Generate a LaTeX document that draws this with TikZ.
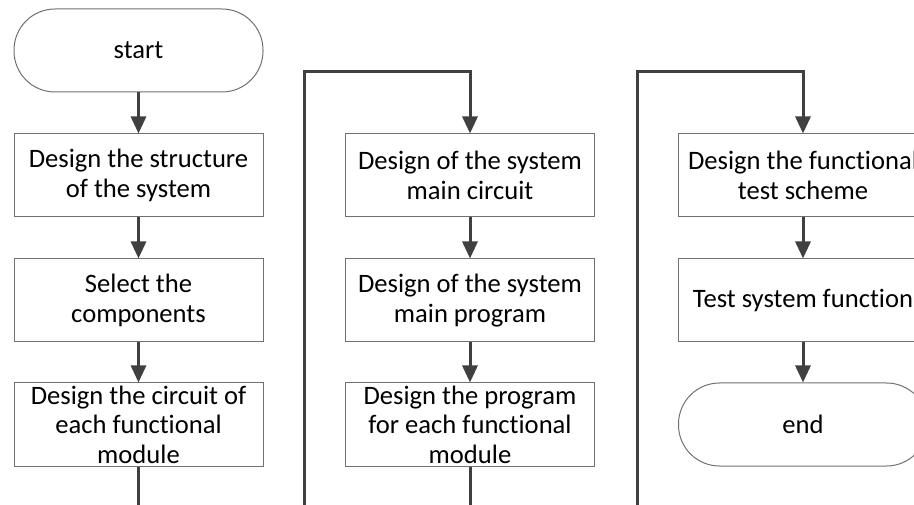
\documentclass[tikz,border=0pt]{standalone}
\usepackage{fontspec}
\setmainfont{Carlito}[Ligatures=NoCommon]
\usetikzlibrary{arrows.meta}
\definecolor{linec}{HTML}{404040}
\definecolor{boxc}{HTML}{707070}
\begin{document}
\begin{tikzpicture}[x=1pt,y=-1pt,
  stepbox/.style={draw=boxc, line width=1pt, minimum width=249pt, minimum height=83pt,
    inner sep=0pt, align=center, font=\fontsize{26.6}{29.5}\selectfont, text=black},
  termbox/.style={stepbox, rounded corners=41pt},
  arr/.style={draw=linec, line width=3pt, -{Triangle[width=15pt,length=17pt]}},
  ln/.style={draw=linec, line width=3pt}]
\useasboundingbox (0,0) rectangle (914,505);
\clip (0,0) rectangle (914,505);
% column 1
\node[termbox] (start) at (138.5,50.5) {start};
\node[stepbox] (b1) at (138.5,175.5) {Design the structure\\of the system};
\node[stepbox] (b2) at (138.5,300.5) {Select the\\components};
\node[stepbox] (b3) at (138.5,424.5) {Design the circuit of\\each functional\\module};
% column 2
\node[stepbox] (a1) at (470,175.5) {Design of the system\\main circuit};
\node[stepbox] (a2) at (470,300.5) {Design of the system\\main program};
\node[stepbox] (a3) at (470,424.5) {Design the program\\for each functional\\module};
% column 3
\node[stepbox] (c1) at (803,175.5) {Design the functional\\test scheme};
\node[stepbox] (c2) at (803,300.5) {Test system function};
\node[termbox] (end) at (803,424.5) {end};
% junction points
\coordinate (l1b) at (304,515);
\coordinate (l1t) at (304,72);
\coordinate (l2b) at (637,506);
\coordinate (l2t) at (637,72);
% connectors
\draw[arr] (start.south) -- (b1.north);
\draw[arr] (b1.south) -- (b2.north);
\draw[arr] (b2.south) -- (b3.north);
\draw[arr] (b3.south) |- (l1b) -- (l1t) -| (a1.north);
\draw[arr] (a1.south) -- (a2.north);
\draw[arr] (a2.south) -- (a3.north);
\draw[arr] (a3.south) |- (l2b) -- (l2t) -| (c1.north);
\draw[arr] (c1.south) -- (c2.north);
\draw[arr] (c2.south) -- (end.north);
\end{tikzpicture}
\end{document}
